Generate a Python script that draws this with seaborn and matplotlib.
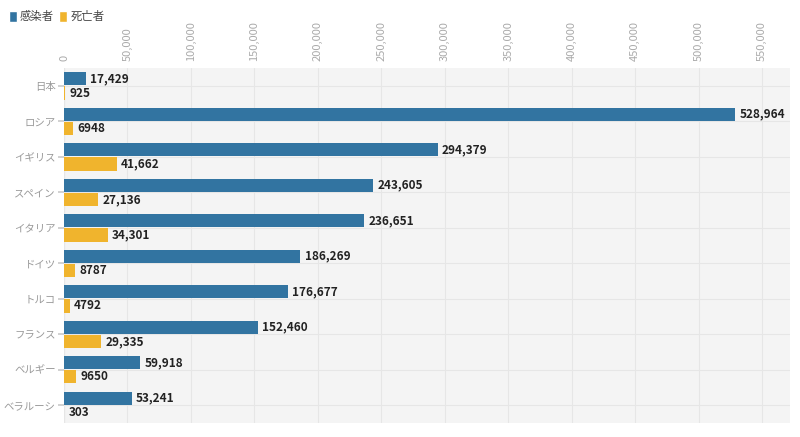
import matplotlib
matplotlib.use("Agg")
import matplotlib.pyplot as plt
import matplotlib.patches as mpatches
import seaborn as sns
import pandas as pd

countries = ["日本", "ロシア", "イギリス", "スペイン", "イタリア", "ドイツ", "トルコ", "フランス", "ベルギー", "ベラルーシ"]
infected = [17429, 528964, 294379, 243605, 236651, 186269, 176677, 152460, 59918, 53241]
deaths = [925, 6948, 41662, 27136, 34301, 8787, 4792, 29335, 9650, 303]
series = ["感染者", "死亡者"]
colors = ["#3274a1", "#f0b42d"]
xticks = list(range(0, 550001, 50000))

df = pd.DataFrame({
    "country": countries * 2,
    "value": infected + deaths,
    "series": [series[0]] * len(countries) + [series[1]] * len(countries),
})

sns.set_theme(style="white")
plt.rcParams["font.family"] = ["Noto Sans CJK JP", "DejaVu Sans"]

fig = plt.figure(figsize=(8, 4.37), dpi=100)
ax = fig.add_axes([0.08, 0.032, 0.9075, 0.812])
ax.set_facecolor("#f4f4f4")

sns.barplot(data=df, y="country", x="value", hue="series", palette=colors,
            order=countries, hue_order=series, orient="h", width=0.8, gap=0.07,
            legend=False, ax=ax, saturation=1, linewidth=0)

def fmt(v):
    return f"{v:,}" if v >= 10000 else str(v)

for cont in ax.containers:
    vals = [int(round(b.get_width())) for b in cont]
    ax.bar_label(cont, labels=[fmt(v) for v in vals], padding=3, fontsize=8.5,
                 fontweight="bold", color="#222222")

ax.set_xlim(0, 572000)
ax.set_ylim(len(countries) - 0.5, -0.5)
ax.set_xticks(xticks)
ax.set_xticklabels([f"{t:,}" for t in xticks], rotation=90, fontsize=8, color="#aaaaaa")
ax.xaxis.tick_top()
ax.tick_params(axis="x", length=0, pad=5)
ax.tick_params(axis="y", length=4, color="#cccccc", labelsize=7.5, labelcolor="#999999", pad=2, left=True)
ax.set_xlabel("")
ax.set_ylabel("")
ax.grid(True, color="#e6e6e6", linewidth=0.8)
ax.set_axisbelow(True)
for s in ax.spines.values():
    s.set_visible(False)
ax.axvline(0, color="#dddddd", linewidth=0.8, zorder=0.5)

handles = [mpatches.Patch(facecolor=c, label=l) for c, l in zip(colors, series)]
fig.legend(handles=handles, loc="upper left", bbox_to_anchor=(-0.002, 0.998), ncol=2,
           frameon=False, fontsize=8.2, handlelength=0.7, handleheight=1.05,
           handletextpad=0.3, columnspacing=0.45, labelcolor="#444444")

fig.savefig("out.png", dpi=100)
